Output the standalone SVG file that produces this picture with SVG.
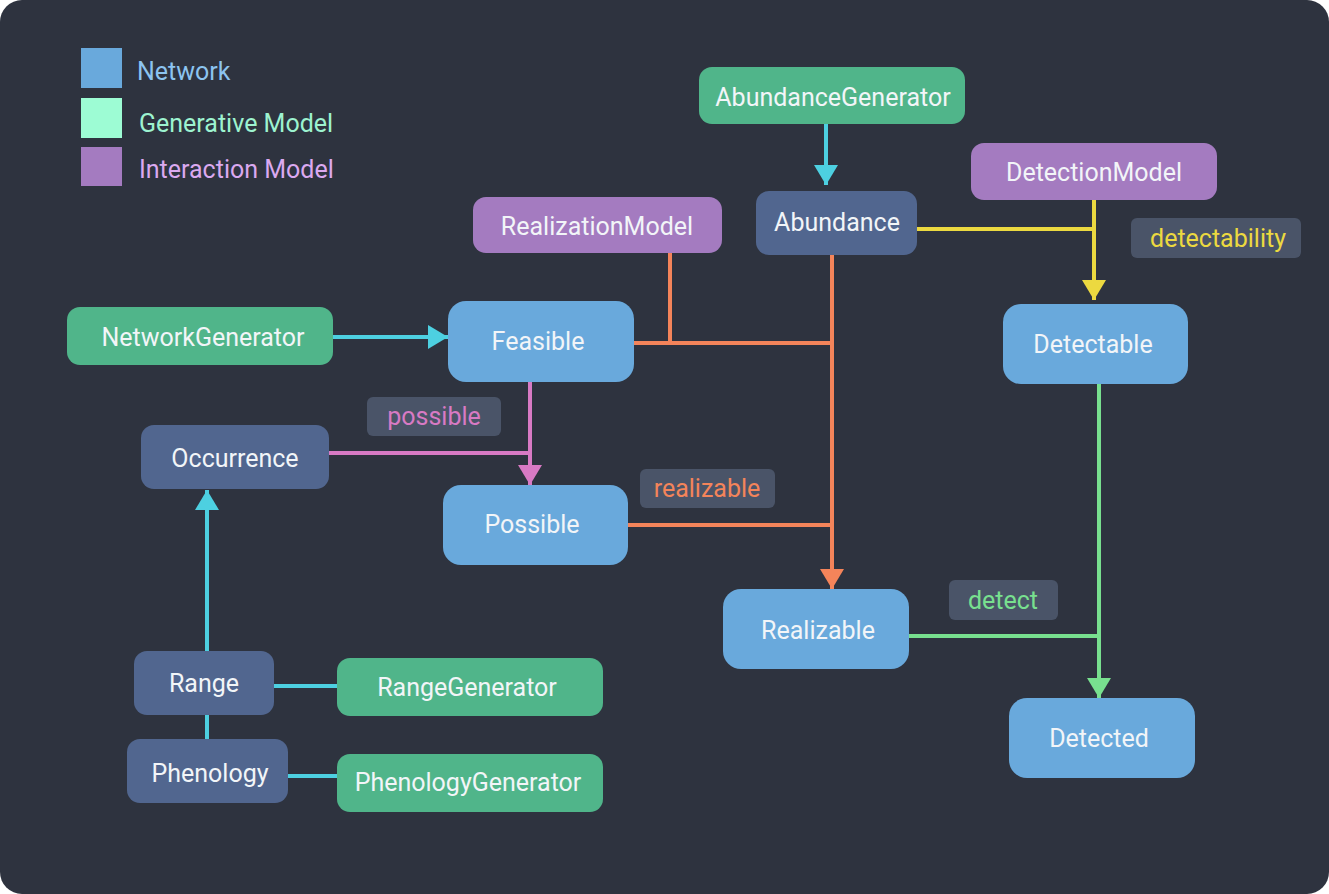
<svg xmlns="http://www.w3.org/2000/svg" width="1329" height="894" viewBox="0 0 1329 894">
<style>
.n text,.lbl text,.leg text{font-family:Roboto,"Liberation Sans",sans-serif;font-size:25px;text-anchor:middle;dominant-baseline:central}
.n text{fill:#f2f5f8}
.net rect{fill:#69a9dc}
.gen rect{fill:#50b58a}
.int rect{fill:#a47bc0}
.dk rect{fill:#51668f}
.lbl rect{fill:#4a5468}
.leg text{text-anchor:start}
.c{fill:none;stroke-width:4}
.cy{stroke:#4dd0e1}.or{stroke:#f4845a}.ye{stroke:#ecd940}.pk{stroke:#d87ac4}.gr{stroke:#78e08f}
</style>
<defs>
<marker id="aCy" markerUnits="userSpaceOnUse" markerWidth="24" markerHeight="24" refX="20" refY="12" orient="auto"><path d="M0,0 L20,12 L0,24 z" fill="#4dd0e1"/></marker>
<marker id="aOr" markerUnits="userSpaceOnUse" markerWidth="24" markerHeight="24" refX="20" refY="12" orient="auto"><path d="M0,0 L20,12 L0,24 z" fill="#f4845a"/></marker>
<marker id="aYe" markerUnits="userSpaceOnUse" markerWidth="24" markerHeight="24" refX="20" refY="12" orient="auto"><path d="M0,0 L20,12 L0,24 z" fill="#ecd940"/></marker>
<marker id="aPk" markerUnits="userSpaceOnUse" markerWidth="24" markerHeight="24" refX="20" refY="12" orient="auto"><path d="M0,0 L20,12 L0,24 z" fill="#d87ac4"/></marker>
<marker id="aGr" markerUnits="userSpaceOnUse" markerWidth="24" markerHeight="24" refX="20" refY="12" orient="auto"><path d="M0,0 L20,12 L0,24 z" fill="#78e08f"/></marker>
</defs>
<rect x="0" y="0" width="1329" height="894" rx="22" fill="#2e333f"/>
<g id="legend" class="leg">
<rect x="81" y="48" width="41" height="40" fill="#69a9dc"/>
<text x="137" y="71" fill="#8cc4f0">Network</text>
<rect x="81" y="98" width="41" height="40" fill="#9dfcd4"/>
<text x="139" y="123" fill="#9df3d0">Generative Model</text>
<rect x="81" y="147" width="41" height="39" fill="#a47bc0"/>
<text x="139" y="169" fill="#dba9f0">Interaction Model</text>
</g>
<g id="connectors">
<path class="c cy" d="M826,124 V185" marker-end="url(#aCy)"/>
<path class="c cy" d="M333,337 H448" marker-end="url(#aCy)"/>
<path class="c cy" d="M207,651 V490" marker-end="url(#aCy)"/>
<path class="c cy" d="M274,686 H337"/>
<path class="c cy" d="M207,715 V739"/>
<path class="c cy" d="M288,776 H337"/>
<path class="c or" d="M670,253 V343"/>
<path class="c or" d="M634,343 H832"/>
<path class="c or" d="M628,525 H832"/>
<path class="c or" d="M832,255 V589" marker-end="url(#aOr)"/>
<path class="c ye" d="M917,229 H1094"/>
<path class="c ye" d="M1094,200 V300" marker-end="url(#aYe)"/>
<path class="c pk" d="M329,453 H530"/>
<path class="c pk" d="M530,382 V485" marker-end="url(#aPk)"/>
<path class="c gr" d="M909,636 H1099"/>
<path class="c gr" d="M1099,384 V698" marker-end="url(#aGr)"/>
</g>
<g id="AbundanceGenerator" class="n gen"><rect x="699" y="67" width="266" height="57" rx="13"/><text x="833" y="97">AbundanceGenerator</text></g>
<g id="DetectionModel" class="n int"><rect x="971" y="143" width="246" height="57" rx="13"/><text x="1094" y="172">DetectionModel</text></g>
<g id="RealizationModel" class="n int"><rect x="473" y="197" width="249" height="56" rx="13"/><text x="597" y="226">RealizationModel</text></g>
<g id="Abundance" class="n dk"><rect x="756" y="191" width="161" height="64" rx="13"/><text x="837" y="222">Abundance</text></g>
<g id="NetworkGenerator" class="n gen"><rect x="67" y="307" width="266" height="58" rx="13"/><text x="203" y="337">NetworkGenerator</text></g>
<g id="Feasible" class="n net"><rect x="448" y="301" width="186" height="81" rx="18"/><text x="538" y="341">Feasible</text></g>
<g id="Detectable" class="n net"><rect x="1003" y="304" width="185" height="80" rx="18"/><text x="1093" y="344">Detectable</text></g>
<g id="Occurrence" class="n dk"><rect x="141" y="425" width="188" height="64" rx="13"/><text x="235" y="458">Occurrence</text></g>
<g id="Possible" class="n net"><rect x="443" y="485" width="185" height="80" rx="18"/><text x="532" y="524">Possible</text></g>
<g id="Realizable" class="n net"><rect x="723" y="589" width="186" height="80" rx="18"/><text x="818" y="630">Realizable</text></g>
<g id="Detected" class="n net"><rect x="1009" y="698" width="186" height="80" rx="18"/><text x="1099" y="738">Detected</text></g>
<g id="Range" class="n dk"><rect x="134" y="651" width="140" height="64" rx="13"/><text x="204" y="683">Range</text></g>
<g id="RangeGenerator" class="n gen"><rect x="337" y="658" width="266" height="58" rx="13"/><text x="467" y="687">RangeGenerator</text></g>
<g id="Phenology" class="n dk"><rect x="127" y="739" width="161" height="64" rx="13"/><text x="210" y="773">Phenology</text></g>
<g id="PhenologyGenerator" class="n gen"><rect x="337" y="754" width="266" height="58" rx="13"/><text x="468" y="782">PhenologyGenerator</text></g>
<g id="lbl-possible" class="lbl"><rect x="367" y="397" width="134" height="39" rx="6"/><text x="434" y="416" fill="#d87ac4">possible</text></g>
<g id="lbl-realizable" class="lbl"><rect x="640" y="469" width="135" height="39" rx="6"/><text x="707" y="488" fill="#f4845a">realizable</text></g>
<g id="lbl-detectability" class="lbl"><rect x="1131" y="218" width="170" height="40" rx="6"/><text x="1218" y="238" fill="#ecd940">detectability</text></g>
<g id="lbl-detect" class="lbl"><rect x="949" y="580" width="109" height="40" rx="6"/><text x="1003" y="600" fill="#78e08f">detect</text></g>
</svg>
